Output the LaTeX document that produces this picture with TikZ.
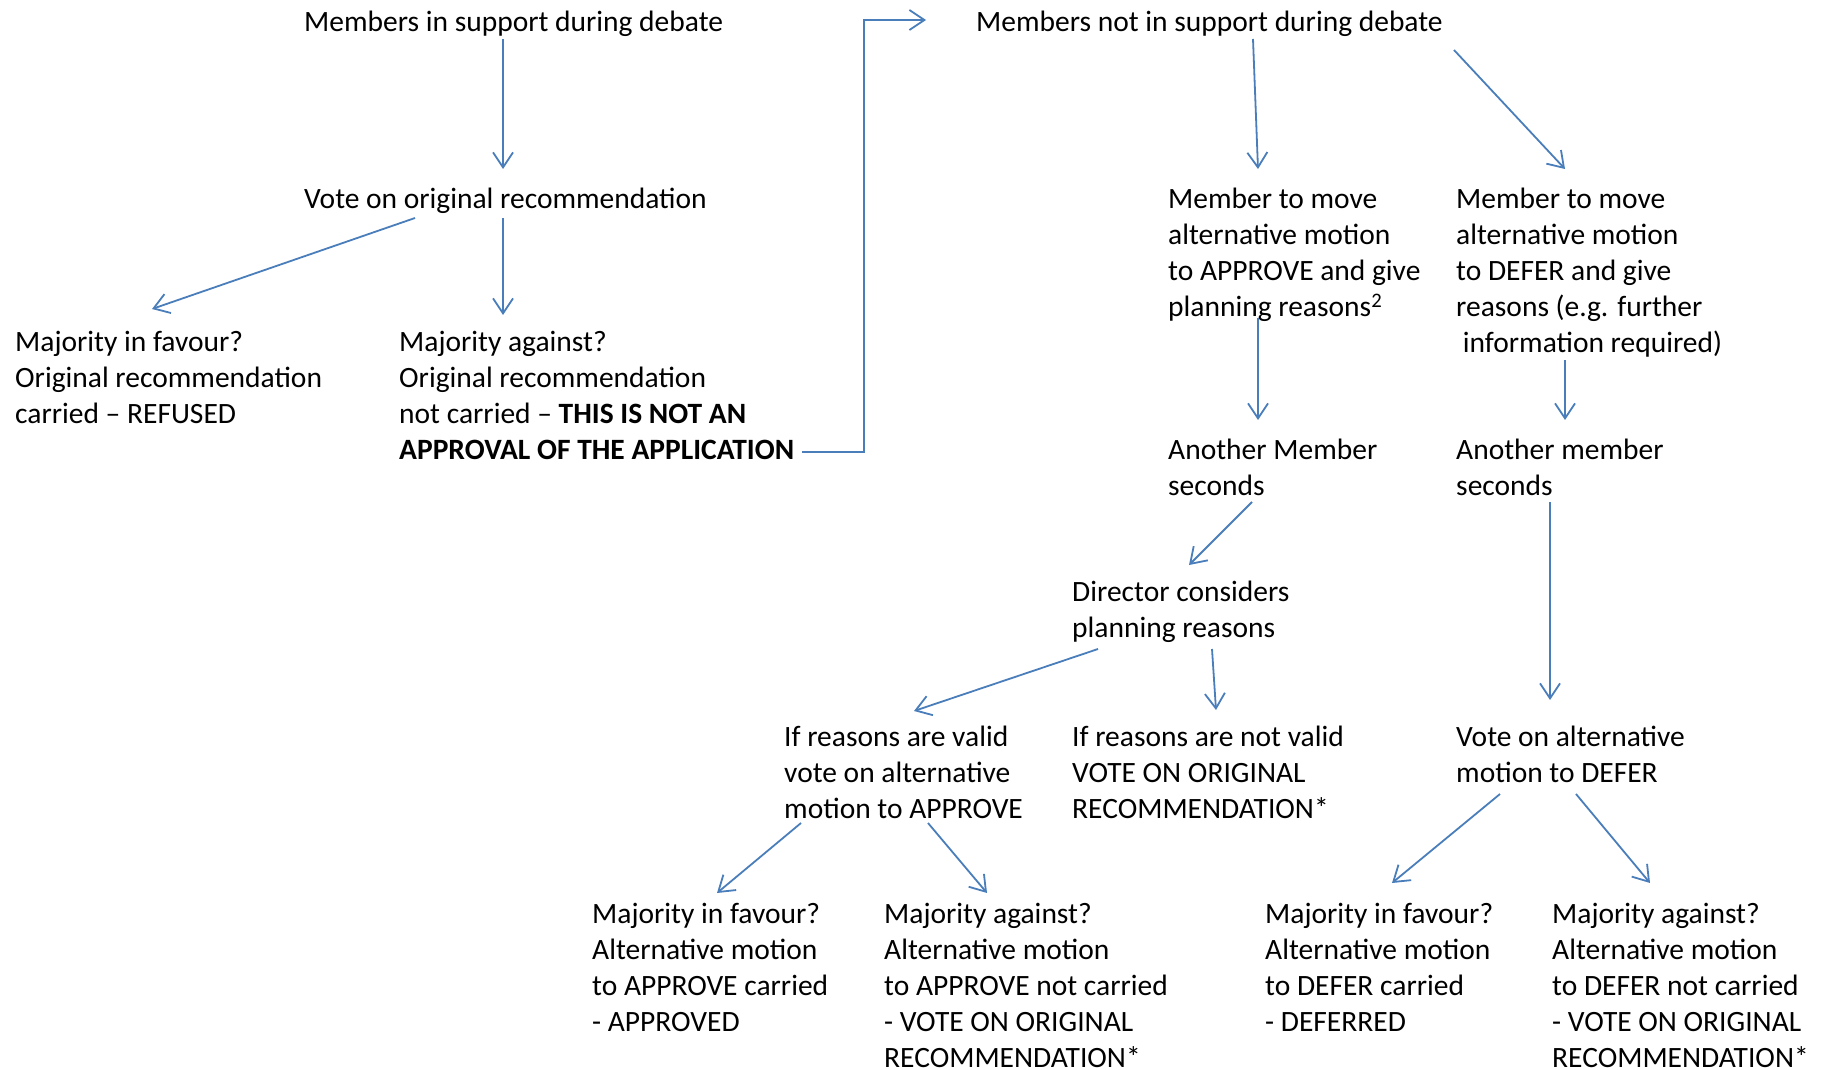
\documentclass[tikz,border=0pt]{standalone}
\usepackage{fontspec}
\setmainfont{Carlito}
\usetikzlibrary{arrows.meta}
\definecolor{ablue}{HTML}{4A7EBB}
\tikzset{
  txt/.style={anchor=west, align=left, inner sep=0pt, font=\fontsize{29.5}{36}\selectfont},
  arr/.style={draw=ablue, line width=1.8pt, -{Straight Barb[length=15pt,width=20pt,line width=1.8pt]}}
}
\begin{document}
\begin{tikzpicture}[x=1pt,y=-1pt]
\useasboundingbox (0,0) rectangle (1831,1070);
% nodes
\node[txt] (sup) at (304,24) {Members in support during debate};
\node[txt] (vote) at (304,201) {Vote on original recommendation};
\node[txt] (fav) at (15,377) {Majority in favour?\\Original recommendation\\carried -- REFUSED};
\node[txt] (ag) at (399,395) {Majority against?\\Original recommendation\\not carried -- \textbf{THIS IS NOT AN}\\\textbf{APPROVAL OF THE APPLICATION}};
\node[txt] (nsup) at (976,24) {Members not in support during debate};
\node[txt] (mapp) at (1168,255) {Member to move\\alternative motion\\to APPROVE and give\\planning reasons\textsuperscript{2}};
\node[txt] (mdef) at (1456,273) {Member to move\\alternative motion\\to DEFER and give\\reasons (e.g. further\\\ information required)};
\node[txt] (sec1) at (1168,467) {Another Member\\seconds};
\node[txt] (sec2) at (1456,467) {Another member\\seconds};
\node[txt] (dir) at (1072,612) {Director considers\\planning reasons};
\node[txt] (valid) at (784,772) {If reasons are valid\\vote on alternative\\motion to APPROVE};
\node[txt] (nvalid) at (1072,772) {If reasons are not valid\\VOTE ON ORIGINAL\\RECOMMENDATION*};
\node[txt] (vdef) at (1456,754) {Vote on alternative\\motion to DEFER};
\node[txt] (b1) at (592,967) {Majority in favour?\\Alternative motion\\to APPROVE carried\\- APPROVED};
\node[txt] (b2) at (884,985) {Majority against?\\Alternative motion\\to APPROVE not carried\\- VOTE ON ORIGINAL\\RECOMMENDATION*};
\node[txt] (b3) at (1265,967) {Majority in favour?\\Alternative motion\\to DEFER carried\\- DEFERRED};
\node[txt] (b4) at (1552,985) {Majority against?\\Alternative motion\\to DEFER not carried\\- VOTE ON ORIGINAL\\RECOMMENDATION*};
% connector end points
\coordinate (a1s) at (503,39);   \coordinate (a1e) at (503,169);
\coordinate (a2s) at (415,218);  \coordinate (a2e) at (152,309);
\coordinate (a3s) at (503,218);  \coordinate (a3e) at (503,315);
\coordinate (a4s) at (802,452);  \coordinate (a4m) at (864,20); \coordinate (a4e) at (926,20);
\coordinate (a5s) at (1253,39);  \coordinate (a5e) at (1258,169);
\coordinate (a6s) at (1454,50);  \coordinate (a6e) at (1565,169);
\coordinate (a7s) at (1258,318); \coordinate (a7e) at (1258,420);
\coordinate (a8s) at (1565,360); \coordinate (a8e) at (1565,420);
\coordinate (a9s) at (1252,502); \coordinate (a9e) at (1189,565);
\coordinate (a10s) at (1550,502); \coordinate (a10e) at (1550,700);
\coordinate (a11s) at (1098,649); \coordinate (a11e) at (914,711);
\coordinate (a12s) at (1212,649); \coordinate (a12e) at (1216,710);
\coordinate (a13s) at (801,823); \coordinate (a13e) at (717,893);
\coordinate (a14s) at (928,823); \coordinate (a14e) at (987,893);
\coordinate (a15s) at (1500,794); \coordinate (a15e) at (1392,883);
\coordinate (a16s) at (1576,794); \coordinate (a16e) at (1650,883);
% connectors
\draw[arr] (a1s) -- (a1e);
\draw[arr] (a2s) -- (a2e);
\draw[arr] (a3s) -- (a3e);
\draw[arr] (a4s) -| (a4m) -- (a4e);
\draw[arr] (a5s) -- (a5e);
\draw[arr] (a6s) -- (a6e);
\draw[arr] (a7s) -- (a7e);
\draw[arr] (a8s) -- (a8e);
\draw[arr] (a9s) -- (a9e);
\draw[arr] (a10s) -- (a10e);
\draw[arr] (a11s) -- (a11e);
\draw[arr] (a12s) -- (a12e);
\draw[arr] (a13s) -- (a13e);
\draw[arr] (a14s) -- (a14e);
\draw[arr] (a15s) -- (a15e);
\draw[arr] (a16s) -- (a16e);
\end{tikzpicture}
\end{document}
